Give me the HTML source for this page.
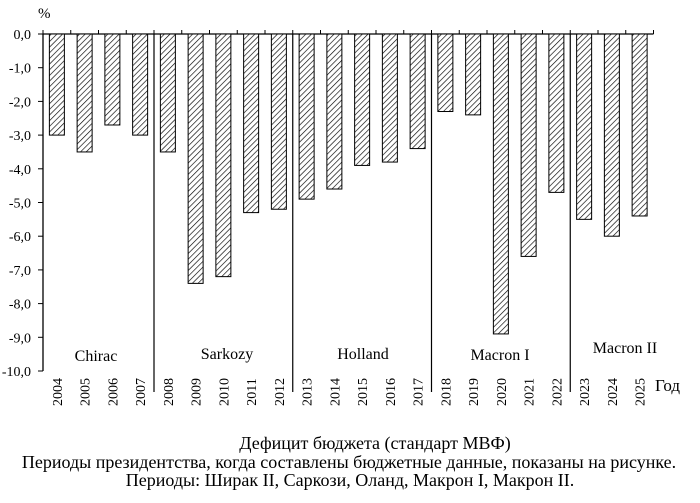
<!DOCTYPE html>
<html><head><meta charset="utf-8"><style>
body{margin:0;background:#fff;}
svg text{font-family:"Liberation Serif",serif;fill:#000;}
</style></head><body>
<svg width="700" height="498" viewBox="0 0 700 498" xmlns="http://www.w3.org/2000/svg">
<defs>
<pattern id="h" patternUnits="userSpaceOnUse" width="4" height="4" patternTransform="rotate(45)">
<rect width="4" height="4" fill="#fff"/>
<line x1="0" y1="0" x2="0" y2="4" stroke="#000" stroke-width="1.3"/>
</pattern>
</defs>
<text x="38" y="18" font-size="15">%</text>
<g id="chart"></g>
<script>
(function(){
var ns="http://www.w3.org/2000/svg",g=document.getElementById("chart");
function el(t,a,txt){var e=document.createElementNS(ns,t);for(var k in a)e.setAttribute(k,a[k]);if(txt!==undefined)e.textContent=txt;g.appendChild(e);return e;}
var x0=43,w=27.75,y0=34,s=33.7;
var vals=[-3.0,-3.5,-2.7,-3.0,-3.5,-7.4,-7.2,-5.3,-5.2,-4.9,-4.6,-3.9,-3.8,-3.4,-2.3,-2.4,-8.9,-6.6,-4.7,-5.5,-6.0,-5.4];
for(var i=0;i<=10;i++){var y=y0+i*s;
el("line",{x1:x0-5,y1:y,x2:x0,y2:y,stroke:"#000","stroke-width":1});
el("text",{x:31,y:y+5,"font-size":14,"text-anchor":"end"},(i==0?"0,0":"-"+i+",0"));}
el("line",{x1:x0,y1:y0,x2:x0,y2:y0+10*s,stroke:"#000","stroke-width":1.3});
el("line",{x1:x0,y1:y0,x2:x0+22*w,y2:y0,stroke:"#000","stroke-width":1.3});
for(var i=0;i<=22;i++){var x=x0+i*w;el("line",{x1:x,y1:y0-4,x2:x,y2:y0,stroke:"#000","stroke-width":1});}
[4,9,14,19].forEach(function(k){var x=x0+k*w;el("line",{x1:x,y1:y0,x2:x,y2:392,stroke:"#000","stroke-width":1.2});});
vals.forEach(function(v,i){var cx=x0+i*w+w/2;
el("rect",{x:cx-7.5,y:y0,width:15,height:-v*s,fill:"url(#h)",stroke:"#000","stroke-width":1});
el("text",{x:0,y:0,"font-size":14,"text-anchor":"middle",transform:"translate("+(cx+5)+",392) rotate(-90)"},String(2004+i));});
})();
</script>
<text x="96" y="361" font-size="16" text-anchor="middle">Chirac</text>
<text x="227" y="359" font-size="16" text-anchor="middle">Sarkozy</text>
<text x="363" y="359" font-size="16" text-anchor="middle">Holland</text>
<text x="500" y="360" font-size="16" text-anchor="middle">Macron I</text>
<text x="625" y="353" font-size="16" text-anchor="middle">Macron II</text>
<text x="655" y="391" font-size="17">Год</text>
<text x="375" y="449" font-size="18" text-anchor="middle">Дефицит бюджета (стандарт МВФ)</text>
<text x="349" y="468" font-size="18" text-anchor="middle">Периоды президентства, когда составлены бюджетные данные, показаны на рисунке.</text>
<text x="350" y="486" font-size="18" text-anchor="middle">Периоды: Ширак II, Саркози, Оланд, Макрон I, Макрон II.</text>
</svg>
</body></html>
